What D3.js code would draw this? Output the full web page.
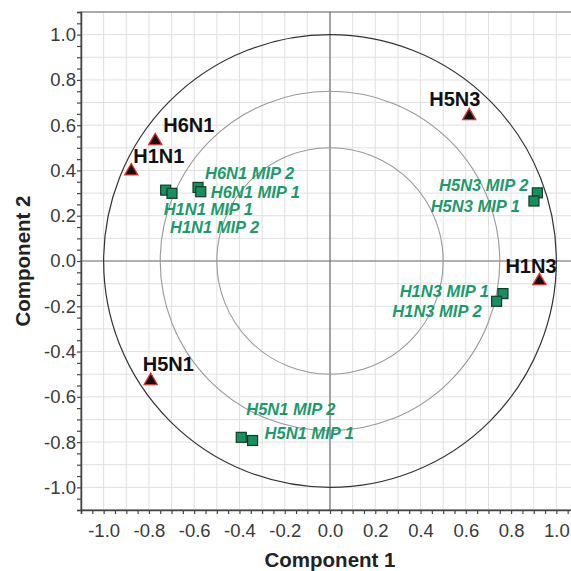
<!DOCTYPE html>
<html><head><meta charset="utf-8">
<script src="https://cdn.jsdelivr.net/npm/d3@7"></script>
<style>body{margin:0;background:#fff;} svg{display:block;}</style>
</head><body>
<svg id="chart" width="571" height="571"></svg>
<script>
// Data
const strainNames = ["H6N1", "H1N1", "H5N3", "H1N3", "H5N1"];
const strainX = [-0.772, -0.878, 0.615, 0.925, -0.792];
const strainY = [0.531, 0.397, 0.641, -0.088, -0.529];

const mipNames = ["H1N1 MIP 1", "H1N1 MIP 2", "H6N1 MIP 2", "H6N1 MIP 1",
                  "H5N3 MIP 2", "H5N3 MIP 1", "H1N3 MIP 1", "H1N3 MIP 2",
                  "H5N1 MIP 2", "H5N1 MIP 1"];
const mipX = [-0.726, -0.698, -0.583, -0.571, 0.916, 0.901, 0.764, 0.736, -0.392, -0.342];
const mipY = [0.313, 0.299, 0.325, 0.306, 0.301, 0.265, -0.144, -0.178, -0.779, -0.793];

const tickValues = [-1.0, -0.8, -0.6, -0.4, -0.2, 0.0, 0.2, 0.4, 0.6, 0.8, 1.0];
const circleRadii = [1.0, 0.75, 0.5];
const xTitle = "Component 1";
const yTitle = "Component 2";

// label placement (pixel offsets from point: dx, dy, anchor)
const strainLabelPos = [[8, -9, "start"], [2, -8, "start"], [-40, -10, "start"], [-34, -8, "start"], [-8, -10, "start"]];
const mipLabelPos = [[-2, 25, "start"], [-2, 40, "start"], [7, -8, "start"], [10, 6, "start"],
                     [-9, -2, "end"], [-14, 11, "end"], [-14, 3, "end"], [-15, 16, "end"],
                     [5, -22, "start"], [12, -2, "start"]];

const svg = d3.select("#chart");
const x = d3.scaleLinear().domain([-1.1, 1.1]).range([81, 579]);
const y = d3.scaleLinear().domain([-1.1, 1.1]).range([510, 12]);
const FONT = "Liberation Sans, Arial, sans-serif";

// grid every 0.1
const grid = d3.range(-11, 12).map(i => i / 10);
const g = svg.append("g");
g.selectAll(".gx").data(grid).enter().append("line")
  .attr("x1", d => x(d)).attr("x2", d => x(d)).attr("y1", y(1.1)).attr("y2", y(-1.1))
  .attr("stroke", "#e0e0e0").attr("stroke-width", 1);
g.selectAll(".gy").data(grid).enter().append("line")
  .attr("y1", d => y(d)).attr("y2", d => y(d)).attr("x1", x(-1.1)).attr("x2", x(1.1))
  .attr("stroke", "#e0e0e0").attr("stroke-width", 1);

// zero lines
svg.append("line").attr("x1", x(0)).attr("x2", x(0)).attr("y1", y(1.1)).attr("y2", y(-1.1))
  .attr("stroke", "#707070").attr("stroke-width", 1.2);
svg.append("line").attr("y1", y(0)).attr("y2", y(0)).attr("x1", x(-1.1)).attr("x2", x(1.1))
  .attr("stroke", "#707070").attr("stroke-width", 1.2);

// circles
const circColors = ["#333", "#999", "#999"];
svg.selectAll(".circ").data(circleRadii).enter().append("ellipse")
  .attr("cx", x(0)).attr("cy", y(0))
  .attr("rx", d => x(d) - x(0)).attr("ry", d => y(0) - y(d))
  .attr("fill", "none").attr("stroke", (d, i) => circColors[i]).attr("stroke-width", (d, i) => i === 0 ? 1.2 : 1.1);

// frame
svg.append("rect").attr("x", x(-1.1)).attr("y", y(1.1)).attr("width", x(1.1) - x(-1.1)).attr("height", y(-1.1) - y(1.1))
  .attr("fill", "none").attr("stroke", "#666").attr("stroke-width", 1);

// axes
const minorTicks = d3.range(-22, 23).map(i => i / 20);
const xAxis = d3.axisBottom(x).tickValues(minorTicks).tickSize(4).tickFormat("");
const yAxis = d3.axisLeft(y).tickValues(minorTicks).tickSize(4).tickFormat("");
const xa = svg.append("g").attr("transform", `translate(0,${y(-1.1)})`).call(xAxis);
const ya = svg.append("g").attr("transform", `translate(${x(-1.1)},0)`).call(yAxis);
[xa, ya].forEach(a => { a.select(".domain").attr("stroke", "#444").attr("stroke-width", 1.5); a.selectAll(".tick line").attr("stroke", "#444").attr("stroke-width", 1.2); });

const fmt = d => d3.format(".1f")(d).replace("\u2212", "-");
const xl = svg.append("g").attr("transform", `translate(0,${y(-1.1)})`)
  .call(d3.axisBottom(x).tickValues(tickValues).tickSize(0).tickPadding(14).tickFormat(fmt));
const yl = svg.append("g").attr("transform", `translate(${x(-1.1)},0)`)
  .call(d3.axisLeft(y).tickValues(tickValues).tickSize(0).tickPadding(5).tickFormat(fmt));
[xl, yl].forEach(a => {
  a.select(".domain").remove();
  a.selectAll("text").attr("font-family", FONT).attr("font-size", 18.5).attr("fill", "#3a3a3a");
});

// titles
svg.append("text").attr("x", x(0)).attr("y", 567).attr("text-anchor", "middle")
  .attr("font-family", FONT).attr("font-weight", "bold").attr("font-size", 20.5).attr("fill", "#222")
  .text(xTitle);
svg.append("text").attr("transform", `translate(30,${y(0)}) rotate(-90)`).attr("text-anchor", "middle")
  .attr("font-family", FONT).attr("font-weight", "bold").attr("font-size", 20.5).attr("fill", "#222")
  .text(yTitle);

// MIP squares
const sq = 10;
svg.selectAll(".mip").data(mipNames).enter().append("rect")
  .attr("x", (d, i) => x(mipX[i]) - sq / 2).attr("y", (d, i) => y(mipY[i]) - sq / 2)
  .attr("width", sq).attr("height", sq)
  .attr("fill", "#179060").attr("stroke", "#123a28").attr("stroke-width", 1.2);

svg.selectAll(".mipl").data(mipNames).enter().append("text")
  .attr("x", (d, i) => x(mipX[i]) + mipLabelPos[i][0])
  .attr("y", (d, i) => y(mipY[i]) + mipLabelPos[i][1])
  .attr("text-anchor", (d, i) => mipLabelPos[i][2])
  .attr("font-family", FONT).attr("font-weight", "bold").attr("font-style", "italic")
  .attr("font-size", 16.5).attr("fill", "#1b9a6c")
  .text(d => d);

// strain triangles
const tri = d3.symbol().type(d3.symbolTriangle).size(75);
svg.selectAll(".strain").data(strainNames).enter().append("path")
  .attr("d", tri)
  .attr("transform", (d, i) => `translate(${x(strainX[i])},${y(strainY[i])})`)
  .attr("fill", "#111").attr("stroke", "#e03030").attr("stroke-width", 1.3);

svg.selectAll(".strainl").data(strainNames).enter().append("text")
  .attr("x", (d, i) => x(strainX[i]) + strainLabelPos[i][0])
  .attr("y", (d, i) => y(strainY[i]) + strainLabelPos[i][1])
  .attr("text-anchor", (d, i) => strainLabelPos[i][2])
  .attr("font-family", FONT).attr("font-weight", "bold")
  .attr("font-size", 20).attr("fill", "#111")
  .text(d => d);
</script>
</body></html>
